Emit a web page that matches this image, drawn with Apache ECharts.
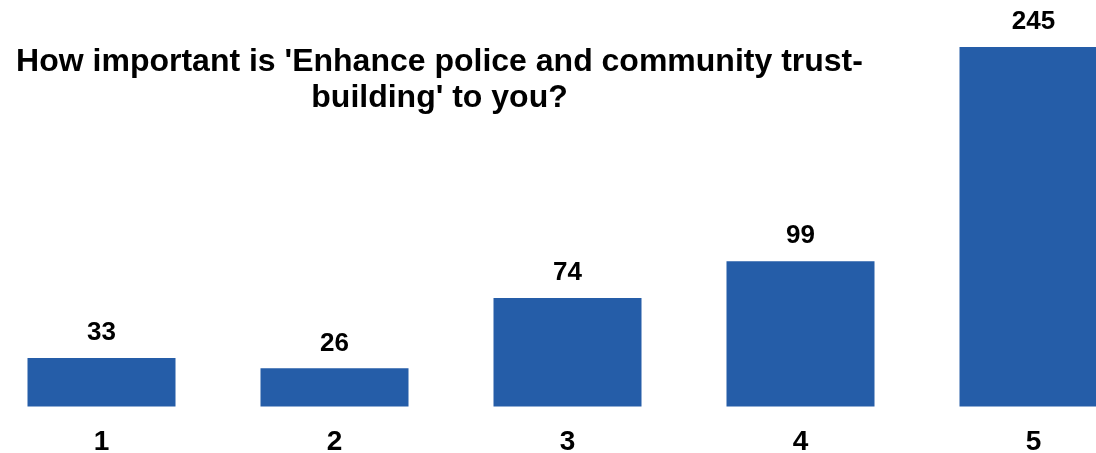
<!DOCTYPE html>
<html>
<head>
<meta charset="utf-8">
<script src="https://cdn.jsdelivr.net/npm/echarts@6/dist/echarts.min.js"></script>
<style>
  html, body { margin: 0; padding: 0; background: #fff; overflow: hidden; }
  /* plot is wider than the window: the last bar is cut at the right edge */
  #chart { width: 1165px; height: 453px; margin-left: -15.5px; }
</style>
</head>
<body>
<div id="chart"></div>
<script>
var categories = ['1', '2', '3', '4', '5'];
var counts = [33, 26, 74, 99, 245];
var titleText = "How important is 'Enhance police and community trust-\nbuilding' to you?";

var chart = echarts.init(document.getElementById('chart'));

var FONT = 'Liberation Sans, Arial, sans-serif';

chart.setOption({
    animation: false,
    title: {
        text: titleText,
        left: 449.5,
        top: 39,
        textAlign: 'center',
        textStyle: {
            fontFamily: FONT,
            fontWeight: 'bold',
            fontSize: 32,
            lineHeight: 36,
            color: '#000'
        }
    },
    grid: {
        left: 0,
        right: 0,
        top: 47,
        bottom: 46.5,
        containLabel: false,
        outerBoundsMode: 'none'
    },
    xAxis: {
        type: 'category',
        data: categories,
        axisLine: { show: false },
        axisTick: { show: false },
        axisLabel: {
            margin: 22,
            fontFamily: FONT,
            fontWeight: 'bold',
            fontSize: 28,
            color: '#000'
        }
    },
    yAxis: {
        type: 'value',
        min: 0,
        max: 245,
        show: false,
        splitLine: { show: false }
    },
    series: [{
        type: 'bar',
        data: counts,
        barWidth: 148,
        itemStyle: { color: '#255DA8' },
        label: {
            show: true,
            position: 'top',
            distance: 12,
            fontFamily: FONT,
            fontWeight: 'bold',
            fontSize: 26,
            color: '#000'
        }
    }]
});
</script>
</body>
</html>
